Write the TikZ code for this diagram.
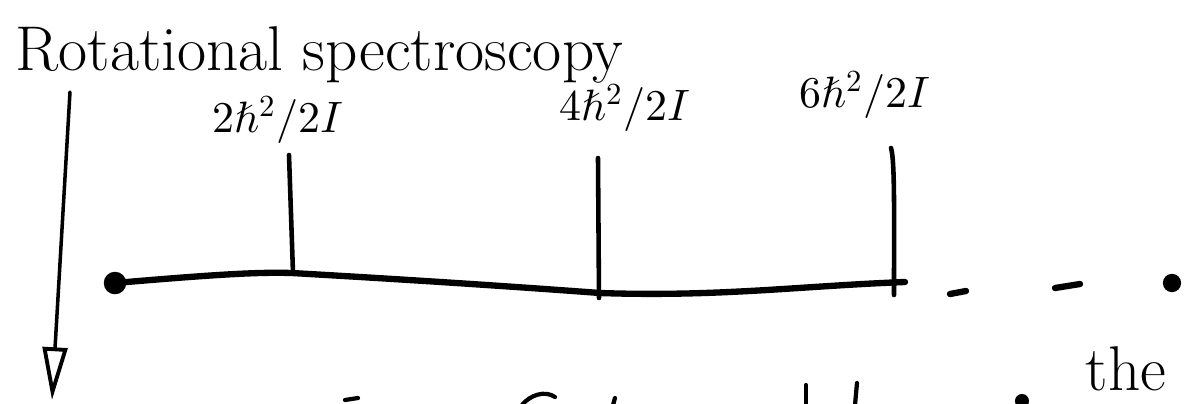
\documentclass[tikz,border=0pt]{standalone}
\usepackage{amsmath}
\usepackage{unicode-math}
\usepackage{tikz}
\usetikzlibrary{arrows.meta, positioning, calc}
\tikzset{
  % Pen strokes
  penstroke/.style={line width=1.2pt, line cap=round, line join=round},
  axisline/.style={penstroke, line width=1.8pt},
  tickmark/.style={penstroke, line width=1.3pt},
  % Text nodes
  titlenode/.style={font=\fontsize{18}{21}\selectfont, inner sep=0pt},
  energylabel/.style={font=\fontsize{12.5}{15}\selectfont, inner sep=0pt},
  % Pointers
  downpointer/.style={-{Triangle[open, length=15pt, width=7pt, line width=1.1pt]}, line width=1pt, line cap=round},
}

\begin{document}
\begin{tikzpicture}[x=1cm, y=1cm]
  \clip (0,0) rectangle (11.88,-4.03);

  % title
  \node[titlenode, anchor=base west] (title) at (0.15,-0.70) {Rotational spectroscopy};

  % arrow down the left
  \coordinate (arrtop) at (0.70,-0.92);
  \coordinate (arrtip) at (0.52,-4.00);
  \draw[downpointer] (arrtop) -- (arrtip);

  % axis
  \coordinate (base0) at (1.15,-2.83);
  \coordinate (base1) at (9.05,-2.82);
  \fill (base0) circle (3.2pt);
  \draw[axisline] (base0) .. controls (2.2,-2.74) and (2.6,-2.72) .. (2.92,-2.73)
    .. controls (4.5,-2.82) and (5.6,-2.90) .. (6.00,-2.93)
    .. controls (7.2,-2.97) and (8.0,-2.86) .. (base1);

  % lines
  \coordinate (t1top) at (2.89,-1.55);
  \coordinate (t1bot) at (2.93,-2.73);
  \coordinate (t2top) at (5.98,-1.58);
  \coordinate (t2bot) at (5.99,-2.98);
  \coordinate (t3top) at (8.91,-1.48);
  \coordinate (t3bot) at (8.94,-2.95);
  \draw[tickmark] (t1top) -- (t1bot);
  \draw[tickmark] (t2top) -- (t2bot);
  \draw[tickmark] (t3top) .. controls (8.95,-1.6) and (8.94,-2.2) .. (t3bot);

  \node[energylabel] (e1) at (2.78,-1.20) {$2\hbar^{2}/2I$};
  \node[energylabel] (e2) at (6.25,-1.08) {$4\hbar^{2}/2I$};
  \node[energylabel] (e3) at (8.65,-0.95) {$6\hbar^{2}/2I$};

  % dashes after the last line
  \coordinate (d1a) at (9.50,-2.94);
  \coordinate (d1b) at (9.66,-2.91);
  \coordinate (d2a) at (10.55,-2.88);
  \coordinate (d2b) at (10.80,-2.84);
  \coordinate (dot) at (11.72,-2.83);
  \draw[axisline] (d1a) -- (d1b);
  \draw[axisline] (d2a) -- (d2b);
  \fill (dot) circle (2.6pt);

  % cut-off writing at the bottom
  \draw[penstroke] (3.45,-4.00) -- (3.58,-3.98);
  \draw[penstroke] (5.22,-4.05) .. controls (5.30,-3.95) and (5.45,-3.90) .. (5.55,-3.97);
  \draw[penstroke] (6.15,-3.98) -- (6.13,-4.05);
  \draw[penstroke] (8.06,-3.85) -- (8.06,-4.05);
  \draw[penstroke] (8.57,-3.83) -- (8.55,-4.05);
  \fill (10.22,-4.01) circle (2pt);
  \node[titlenode, anchor=base west] (thebit) at (10.85,-3.90) {the};
\end{tikzpicture}
\end{document}
